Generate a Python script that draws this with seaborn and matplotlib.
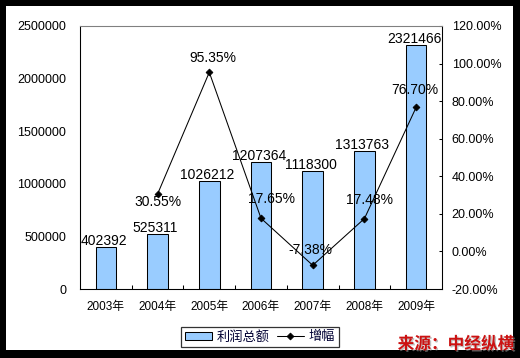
import matplotlib
matplotlib.use("Agg")
import matplotlib.pyplot as plt
import matplotlib.patheffects as pe
from matplotlib.patches import Rectangle
from matplotlib.ticker import FuncFormatter, FixedLocator
import seaborn as sns
import pandas as pd

years = ["2003年", "2004年", "2005年", "2006年", "2007年", "2008年", "2009年"]
profit = [402392, 525311, 1026212, 1207364, 1118300, 1313763, 2321466]
growth_years = ["2004年", "2005年", "2006年", "2007年", "2008年", "2009年"]
growth = [30.55, 95.35, 17.65, -7.38, 17.48, 76.70]
growth_labels = ["30.55%", "95.35%", "17.65%", "-7.38%", "17.48%", "76.70%"]
left_ticks = [0, 500000, 1000000, 1500000, 2000000, 2500000]
right_ticks = [-20, 0, 20, 40, 60, 80, 100, 120]

sns.set_style("white")
plt.rcParams["font.family"] = ["Liberation Sans", "Noto Sans CJK SC", "DejaVu Sans"]

fig = plt.figure(figsize=(5.2, 3.58), dpi=100, facecolor="black")
fig.add_artist(Rectangle((6 / 520, 8 / 358), 507 / 520, 344 / 358,
                         transform=fig.transFigure, facecolor="white",
                         edgecolor="none", zorder=0))

ax = fig.add_axes([80 / 520, 69 / 358, 362 / 520, 263 / 358])
ax.set_facecolor("white")

df = pd.DataFrame({"year": years, "profit": profit})
gdf = pd.DataFrame({"year": growth_years, "growth": growth})

sns.barplot(data=df, x="year", y="profit", order=years, color="#99CCFF",
            saturation=1, edgecolor="black", linewidth=0.75, width=0.4, ax=ax)

ax2 = ax.twinx()
sns.pointplot(data=gdf, x="year", y="growth", order=years, color="black",
              markers="D", markersize=3.5, linewidth=0.75, errorbar=None, ax=ax2)

for a in (ax, ax2):
    a.set_xlim(-0.5, len(years) - 0.5)
    a.set_xlabel("")
    a.set_ylabel("")

ax.set_ylim(0, 2500000)
ax.yaxis.set_major_locator(FixedLocator(left_ticks))
ax.yaxis.set_major_formatter(FuncFormatter(lambda v, p: f"{int(v)}"))
ax.tick_params(axis="y", length=0, pad=14 / 1.389, labelsize=9, labelcolor="black")

ax2.set_ylim(-20, 120)
ax2.yaxis.set_major_locator(FixedLocator(right_ticks))
ax2.yaxis.set_major_formatter(FuncFormatter(lambda v, p: f"{v:.2f}%"))
ax2.tick_params(axis="y", direction="in", length=2.5, width=0.75, pad=7,
                labelsize=9, labelcolor="black", color="black")

ax.set_xticks(range(len(years)))
ax.set_xticklabels(years)
ax.tick_params(axis="x", which="major", length=0, pad=8.5, labelsize=8.5,
               labelcolor="black")
ax.set_xticks([i + 0.5 for i in range(len(years) - 1)], minor=True)
ax.tick_params(axis="x", which="minor", direction="in", length=3, width=0.75,
               color="black")
ax.xaxis.set_ticks_position("bottom")
ax2.tick_params(axis="x", which="both", length=0, labelbottom=False)

for a in (ax, ax2):
    for s in ["left", "right", "bottom"]:
        a.spines[s].set_color("black")
        a.spines[s].set_linewidth(0.75)
        a.spines[s].set_visible(True)
    a.spines["top"].set_color("#808080")
    a.spines["top"].set_linewidth(0.75)
ax2.patch.set_visible(False)

# bar value labels
for i, v in enumerate(profit):
    ax.annotate(str(v), (i, v), xytext=(-2, 2), textcoords="offset pixels",
                ha="center", va="baseline", fontsize=10, color="black")

# growth labels
offs = [(0, -8), (4, 14), (10, 19), (-2, 15), (5, 19), (-1, 17)]
for (yr, g, lab), (dx, dy) in zip(zip(growth_years, growth, growth_labels), offs):
    ax2.annotate(lab, (years.index(yr), g), xytext=(dx, dy),
                 textcoords="offset pixels", ha="center", va="center",
                 fontsize=10, color="black")

# legend
bar_handle = ax.patches[0]
line_handle = ax2.lines[0]
leg = fig.legend([bar_handle, line_handle], ["利润总额", "增幅"],
                 loc="center", bbox_to_anchor=(260 / 520, (358 - 337) / 358),
                 ncol=2, frameon=True, fancybox=False, edgecolor="black",
                 fontsize=9.5, handlelength=2.1, handleheight=0.6,
                 columnspacing=0.5, handletextpad=0.35, borderpad=0.3,
                 borderaxespad=0)
leg.get_frame().set_linewidth(0.9)
for t in leg.get_texts():
    t.set_color("#000033")

fig.text(514 / 520, (358 - 344) / 358, "来源：中经纵横", ha="right", va="center",
         fontsize=12, fontweight="bold", color="#CC1111",
         family=["Noto Sans CJK SC", "DejaVu Sans"],
         path_effects=[pe.withSimplePatchShadow(offset=(1, -1), shadow_rgbFace="#999999", alpha=0.6)])

fig.savefig("out.png", dpi=100, facecolor=fig.get_facecolor())
